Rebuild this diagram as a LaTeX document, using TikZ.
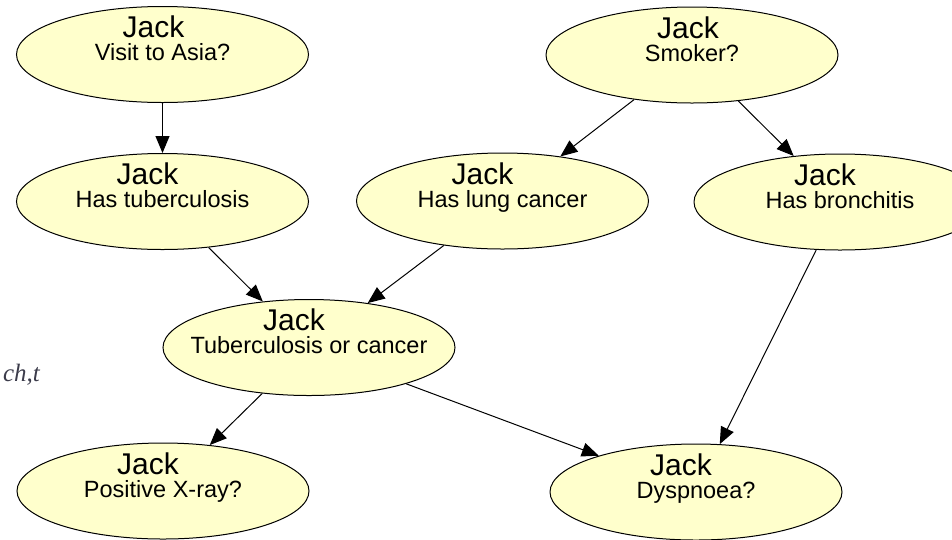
\documentclass[tikz,border=0pt]{standalone}
\usepackage{fontspec}
\setmainfont{Liberation Sans}
\newfontfamily\tms{Liberation Serif}
\usetikzlibrary{shapes.geometric,arrows.meta,calc}
\definecolor{nodefill}{RGB}{255,255,204}
\definecolor{inkgray}{RGB}{60,60,75}
\tikzset{
  bn/.style={ellipse, draw=black, line width=1pt, fill=nodefill,
             minimum width=292pt, minimum height=96pt, inner sep=0pt},
  jack/.style={font=\fontsize{30}{34}\selectfont, inner sep=0pt},
  sub/.style={font=\fontsize{23.5}{27}\selectfont, inner sep=0pt},
  link/.style={line width=1pt, -{Triangle[length=17pt,width=14pt]}}
}
% one network variable: ellipse plus its two text lines
\newcommand\netnode[4][-15]{%
  \node[bn] (#2) at #3 {};
  \node[jack, anchor=base] (#2-a) at ($(#2)+(#1,-17)$) {Jack};
  \node[sub, anchor=base] (#2-b) at ($(#2)+(0,6)$) {#4};
}
\begin{document}
\begin{tikzpicture}[x=1pt, y=-1pt]
  \useasboundingbox (0,0) rectangle (952,539);
  \clip (0,0) rectangle (952,539);

  \netnode[-9]{asia}{(162.5,54.5)}{Visit to Asia?}
  \netnode[-4]{smoke}{(692,55)}{Smoker?}
  \netnode{tub}{(162.5,201.5)}{Has tuberculosis}
  \netnode[-20]{lung}{(502.5,201)}{Has lung cancer}
  \netnode{bron}{(840,202)}{Has bronchitis}
  \netnode{either}{(309,347.5)}{Tuberculosis or cancer}
  \netnode{xray}{(163,491)}{Positive X-ray?}
  \netnode{dysp}{(696,492)}{Dyspnoea?}

  \node[anchor=base east, inner sep=0pt, text=inkgray,
        font=\tms\itshape\fontsize{25}{30}\selectfont] (side) at (40,381) {ch,t};

  \draw[link] (asia) -- (tub);
  \draw[link] (smoke) -- (lung);
  \draw[link] (smoke) -- (bron);
  \draw[link] (tub) -- (either);
  \draw[link] (lung) -- (either);
  \draw[link] (either) -- (xray);
  \draw[link] (either) -- (dysp);
  \draw[link] (bron) -- (dysp);
\end{tikzpicture}
\end{document}
